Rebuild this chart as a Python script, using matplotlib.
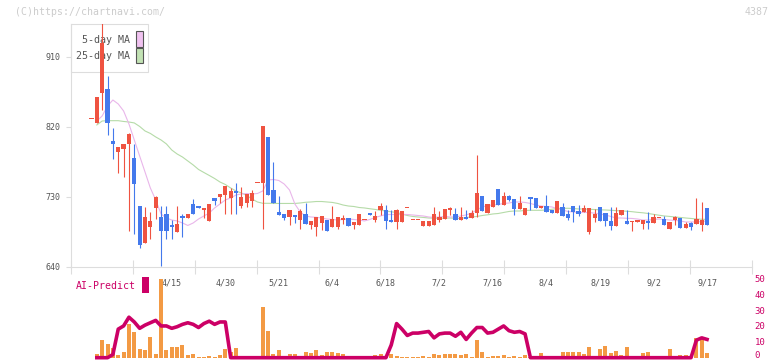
import numpy as np
import matplotlib
matplotlib.use("Agg")
import matplotlib.pyplot as plt
from matplotlib.patches import Rectangle
from matplotlib.transforms import blended_transform_factory, ScaledTranslation

# daily candles, oldest first
opens = [830.3, 825.2, 863.7, 868.9, 802.0, 788.3, 792.1, 797.8, 780.5, 718.4,
         671.3, 691.8, 716.3, 704.3, 708.2, 694.0, 685.4, 705.6, 703.4, 721.0,
         717.5, 713.7, 699.5, 728.7, 730.4, 733.0, 729.1, 738.1, 718.4, 722.7,
         725.3, 747.6, 748.0, 807.5, 739.0, 710.7, 708.2, 703.9, 706.5, 700.4,
         708.2, 694.4, 691.4, 697.0, 700.4, 691.1, 691.8, 700.4, 703.0, 694.4,
         694.4, 700.4, 709.1, 700.4, 713.3, 713.3, 700.4, 698.3, 698.3, 715.5,
         700.4, 700.4, 692.7, 692.7, 694.4, 700.4, 702.1, 713.3, 708.2, 700.8,
         704.7, 703.4, 709.8, 731.3, 709.8, 717.2, 740.3, 720.1, 731.3, 727.4,
         714.6, 706.9, 730.0, 728.7, 715.9, 718.4, 713.3, 709.4, 717.2, 708.2,
         718.4, 712.0, 710.7, 685.0, 703.0, 717.2, 709.4, 699.2, 692.7, 706.9,
         699.2, 697.9, 697.9, 695.3, 699.2, 696.6, 703.0, 701.7, 688.9, 700.4,
         703.0, 690.1, 696.6, 695.3, 694.0, 715.9]
highs = [830.3, 858.6, 953.7, 885.6, 818.7, 794.3, 798.2, 812.0, 798.2, 718.4,
         717.2, 711.1, 731.7, 718.4, 718.4, 700.4, 718.8, 708.2, 708.2, 727.4,
         717.5, 715.9, 721.0, 728.7, 733.9, 744.2, 742.0, 748.4, 743.3, 733.9,
         739.0, 747.6, 821.3, 807.5, 775.4, 731.3, 708.2, 713.3, 706.5, 714.6,
         721.9, 699.5, 704.7, 705.6, 700.4, 718.4, 704.7, 706.9, 703.0, 697.9,
         708.2, 700.4, 709.1, 712.0, 722.3, 719.7, 713.3, 714.6, 712.0, 715.5,
         700.4, 700.4, 699.2, 699.2, 717.2, 712.0, 714.6, 717.2, 716.3, 717.2,
         713.3, 713.3, 784.0, 731.3, 721.0, 726.2, 740.3, 736.4, 732.7, 727.4,
         731.3, 715.9, 730.0, 728.7, 718.4, 732.6, 713.3, 724.9, 722.3, 713.3,
         718.4, 719.7, 719.7, 715.9, 714.6, 717.2, 709.4, 717.2, 717.2, 713.3,
         713.3, 699.2, 700.4, 700.4, 710.7, 708.2, 703.0, 705.6, 697.9, 705.6,
         703.0, 697.9, 697.9, 728.7, 723.6, 715.9]
lows = [830.3, 825.2, 841.9, 809.7, 778.9, 761.3, 756.1, 686.7, 682.8, 664.8,
        671.3, 676.0, 702.1, 641.7, 676.0, 676.0, 685.4, 679.0, 703.4, 708.5,
        716.3, 703.4, 699.5, 719.7, 722.7, 708.5, 708.5, 708.5, 716.3, 717.6,
        717.6, 747.6, 688.5, 733.0, 722.7, 707.2, 700.4, 694.0, 696.2, 688.5,
        695.3, 688.9, 680.3, 687.6, 686.7, 691.1, 688.5, 695.3, 693.1, 689.3,
        694.4, 700.4, 707.2, 698.3, 706.9, 688.9, 698.3, 688.9, 698.3, 715.5,
        700.4, 700.4, 692.7, 692.7, 694.4, 698.3, 702.1, 706.9, 700.8, 700.8,
        702.1, 703.4, 704.7, 712.0, 709.8, 717.2, 720.1, 720.1, 724.8, 707.2,
        714.6, 706.9, 713.3, 715.9, 715.9, 710.7, 709.4, 709.4, 705.6, 700.4,
        697.9, 705.6, 710.7, 682.4, 697.9, 699.2, 692.7, 687.6, 692.7, 706.9,
        695.3, 686.3, 697.9, 688.9, 688.9, 696.6, 703.0, 694.0, 688.9, 694.0,
        690.1, 690.1, 687.6, 695.3, 686.3, 694.0]
closes = [830.3, 858.6, 928.0, 825.5, 797.8, 794.3, 798.2, 811.0, 747.1, 668.7,
          704.7, 699.2, 730.4, 686.7, 686.7, 691.1, 695.3, 703.4, 708.2, 708.5,
          716.3, 715.9, 721.0, 725.3, 733.9, 744.2, 738.1, 734.8, 730.4, 733.9,
          735.5, 747.6, 821.3, 733.0, 722.7, 707.2, 703.0, 713.3, 704.7, 711.6,
          695.3, 699.5, 704.7, 705.6, 686.7, 701.7, 704.7, 703.4, 693.1, 697.9,
          708.2, 700.4, 707.2, 705.6, 718.4, 699.5, 698.3, 713.3, 712.0, 715.5,
          700.4, 700.4, 699.2, 699.2, 708.2, 704.7, 714.6, 716.3, 700.8, 703.9,
          702.1, 709.4, 735.2, 712.0, 721.0, 726.2, 720.1, 731.3, 726.2, 714.6,
          722.3, 715.9, 727.4, 715.9, 718.4, 710.7, 709.4, 724.9, 705.6, 703.0,
          710.7, 708.2, 715.9, 715.9, 708.2, 699.2, 699.2, 692.7, 709.4, 713.3,
          695.3, 699.2, 700.4, 700.4, 696.6, 704.3, 703.0, 694.0, 697.9, 704.3,
          690.1, 695.3, 691.4, 701.7, 700.4, 694.0]

nan = np.nan
ma5 = [nan, 827.7, 834.2, 847.0, 854.7, 849.6, 840.6, 823.9, 803.3, 782.7,
       762.2, 741.6, 726.2, 708.2, 703.0, 700.4, 699.2, 696.6, 693.4, 696.6,
       701.7, 705.6, 709.4, 715.9, 721.0, 726.2, 728.7, 732.6, 733.9, 734.5,
       733.9, 734.5, 737.7, 751.9, 752.5, 751.2, 746.7, 739.0, 721.0, 710.7,
       705.6, 704.3, 703.9, 703.0, 701.7, 701.1, 700.4, 701.1, 701.7, 701.1,
       700.4, 699.2, 701.1, 703.7, 705.6, 707.5, 707.5, 707.5, 707.5, 707.5,
       706.9, 706.2, 705.6, 704.3, 703.7, 704.3, 705.0, 704.3, 704.3, 705.6,
       706.9, 709.4, 713.3, 717.2, 719.1, 719.7, 720.4, 721.7, 722.3, 723.6,
       723.6, 723.0, 721.7, 719.7, 718.4, 717.8, 717.2, 715.2, 713.3, 711.4,
       710.7, 710.1, 710.1, 710.1, 709.1, 708.2, 706.9, 705.0, 703.0, 703.0,
       702.6, 702.4, 701.7, 700.4, 700.4, 701.1, 701.7, 701.1, 700.4, 699.8,
       699.2, 697.9, 697.9, 697.9, 698.5, 699.2]
ma25 = [nan, 822.6, 827.7, 828.1, 828.1, 828.1, 827.1, 826.4, 825.2, 820.7,
        814.9, 811.7, 807.2, 803.3, 798.2, 790.4, 785.3, 781.4, 776.3, 771.2,
        765.4, 761.5, 757.7, 753.8, 749.3, 746.1, 741.6, 737.7, 735.2, 731.9,
        727.4, 723.6, 721.9, 721.9, 721.7, 721.7, 721.7, 721.7, 721.7, 722.3,
        723.2, 723.6, 724.2, 724.2, 723.6, 723.0, 721.7, 719.7, 718.4, 717.8,
        716.5, 715.9, 714.9, 714.0, 712.9, 712.0, 711.0, 710.1, 708.2, 706.2,
        705.0, 704.3, 703.7, 703.0, 702.8, 702.6, 702.8, 703.0, 702.6, 702.4,
        703.7, 704.3, 705.0, 706.2, 707.1, 708.2, 708.8, 710.1, 711.4, 712.0,
        712.0, 712.7, 712.9, 712.9, 712.9, 713.3, 714.2, 715.2, 715.5, 715.5,
        715.2, 714.6, 714.6, 714.2, 713.9, 713.5, 713.3, 712.9, 712.5, 712.1,
        711.7, 711.1, 710.3, 709.7, 708.8, 707.7, 706.6, 705.6, 705.0, 704.3,
        703.7, 703.0, 702.4, 701.7, 701.4, 701.2]

# volume (relative units), AI-Predict score (0-50)
volume = [0, 4, 18, 14, 10, 3, 6, 34, 26, 9,
          8, 21, 4, 79, 8, 11, 11, 13, 3, 4,
          1, 1, 2, 1, 3, 9, 6, 10, 0, 0,
          0, 0, 51, 27, 4, 8, 2, 4, 4, 0,
          6, 5, 8, 3, 6, 6, 5, 4, 2, 0,
          2, 0, 2, 3, 4, 2, 4, 2, 1, 0.5,
          0.5, 0.5, 2, 1, 4, 3, 4, 4, 4, 3,
          4, 1, 18, 6, 1, 2, 2, 3, 1, 2,
          1, 3, 1, 2, 5, 0, 0, 2, 6, 6,
          6, 6, 4, 11, 2, 9, 12, 5, 7, 3,
          11, 1, 0, 5, 6, 2, 0, 2, 9, 0,
          3, 3, 0, 20, 20, 5]
ai_predict = [nan, 0, 0, 0, 2, 18, 20, 25.5, 22.5, 18.5,
              20.5, 22, 23.5, 20, 20, 18.5, 19.5, 21, 22, 21,
              19, 21.5, 23, 21, 22.5, 22.5, 0, 0, 0, 0,
              0, 0, 0, 0, 0, 0, 0, 0, 0, 0,
              0, 0, 0, 0, 0, 0, 0, 0, 0, 0,
              0, 0, 0, 0, 0, 0, 8, 21.5, 18, 14,
              15.5, 15.5, 16, 16.5, 12.5, 15, 15.5, 15.5, 13.5, 16,
              11.5, 15.5, 19, 19, 15.5, 16, 18, 20, 17, 16,
              16.5, 15, 0, 0, 0, 0, 0, 0, 0, 0,
              0, 0, 0, 0, 0, 0, 0, 0, 0, 0,
              0, 0, 0, 0, 0, 0, 0, 0, 0, 0,
              0, 0, 0, 11, 12.5, 11.5]

date_labels = ["4/15", "4/30", "5/21", "6/4", "6/18", "7/2", "7/16", "8/4", "8/19", "9/2", "9/17"]
label_idx = [15, 25, 35, 45, 55, 65, 75, 85, 95, 105, 115]
price_ticks = [640, 730, 820, 910]
ai_ticks = [0, 10, 20, 30, 40, 50]

UP = "#ef5341"
DOWN = "#4479ec"
MAGENTA = "#cc0066"
W, H = 772, 361

plt.rcParams["font.family"] = ["DejaVu Sans Mono"]


def fx(x):
    return x / W


def fy(y):
    return 1 - y / H


fig = plt.figure(figsize=(W / 100, H / 100), dpi=100)

# ---- price panel ----
ax = fig.add_axes([fx(70.7), fy(267), fx(752.3) - fx(70.7), fy(24) - fy(267)])
x_min, x_max = -3.88, 123.45
ax.set_xlim(x_min, x_max)
ax.set_ylim(640, 952.4)

idx = np.arange(len(closes))
o = np.array(opens)
c = np.array(closes)
cols = [UP if cc >= oo else DOWN for oo, cc in zip(o, c)]
body_lo = np.minimum(o, c)
body_h = np.maximum(np.abs(c - o), 1.6)

ax.plot(idx, ma25, color="#b5dba8", lw=0.8, zorder=2)
ax.plot(idx, ma5, color="#e9b6ea", lw=0.8, zorder=2)
ax.vlines(idx, lows, highs, colors=cols, lw=0.8, zorder=3)
ax.bar(idx, body_h, bottom=body_lo, width=0.8, color=cols, linewidth=0, zorder=4)

for side in ["top", "right"]:
    ax.spines[side].set_visible(False)
for side in ["left", "bottom"]:
    ax.spines[side].set_color("#dddddd")
    ax.spines[side].set_linewidth(0.8)

ax.set_yticks(price_ticks)
ax.set_yticklabels([str(t) for t in price_ticks])
ax.tick_params(axis="y", length=3.6, width=0.8, color="#dddddd", pad=4,
               labelsize=6, labelcolor="#555555")
ax.set_xticks(np.arange(x_min, x_max, 11.574))
ax.tick_params(axis="x", direction="inout", length=9.4, width=0.8,
               color="#dddddd", labelbottom=False)

tr = blended_transform_factory(ax.transData, fig.transFigure)
for i, t in zip(label_idx, date_labels):
    ax.text(i, fy(283), t, transform=tr, ha="center", va="center",
            fontsize=6, color="#555555", clip_on=False)

# legend box (under the candles)
ax.add_patch(Rectangle((fx(70.7), fy(71.7)), fx(148.3) - fx(70.7), fy(24) - fy(71.7),
                       transform=fig.transFigure, facecolor="white", edgecolor="#dddddd",
                       lw=0.8, clip_on=False, zorder=1))
for name, yc, y0, y1, fc in [("5-day MA", 40, 31, 46.7, "#f0c2f0"),
                             ("25-day MA", 56, 48.3, 63.3, "#c2e2b4")]:
    ax.text(fx(129.5), fy(yc), name, transform=fig.transFigure, ha="right", va="center",
            fontsize=7.2, color="#555555", zorder=1.5)
    ax.add_patch(Rectangle((fx(136), fy(y1)), fx(142.7) - fx(136), fy(y0) - fy(y1),
                           transform=fig.transFigure, facecolor=fc, edgecolor="#555555",
                           lw=0.8, clip_on=False, zorder=1.5))

fig.text(fx(15), fy(12), "(C)https://chartnavi.com/", fontsize=7.1, color="#cccccc",
         ha="left", va="center")
fig.text(fx(769), fy(12), "4387", fontsize=7.1, color="#cccccc", ha="right", va="center")

# ---- volume / AI panel ----
ax_vol = fig.add_axes([fx(70.7), fy(357.7), fx(752.3) - fx(70.7), fy(278.3) - fy(357.7)])
ax_vol.set_xlim(x_min, x_max)
ax_vol.set_ylim(0, 79.4)
ax_vol.bar(idx, volume, width=0.75, color="#f39a44", linewidth=0)
ax_vol.axis("off")

ax_ai = ax_vol.twinx()
ax_ai.set_xlim(x_min, x_max)
ax_ai.set_ylim(0, 50)
ax_ai.plot(idx, ai_predict, color=MAGENTA, lw=2.6, clip_on=False)
for s in ax_ai.spines.values():
    s.set_visible(False)
ax_ai.set_yticks(ai_ticks)
ax_ai.set_yticklabels([str(t) for t in ai_ticks])
ax_ai.tick_params(axis="y", length=0, pad=1.5, labelsize=6.5, labelcolor=MAGENTA)
ax_ai.set_xticks([])
# keep the bottom "0" inside the picture
lbl0 = ax_ai.get_yticklabels()[0]
lbl0.set_transform(lbl0.get_transform() + ScaledTranslation(0, 2.5 / 72, fig.dpi_scale_trans))

fig.text(fx(76), fy(286), "AI-Predict", fontsize=7.1, color=MAGENTA, ha="left", va="center")
fig.add_artist(Rectangle((fx(142.3), fy(292.7)), fx(148.7) - fx(142.3), fy(277.3) - fy(292.7),
                         transform=fig.transFigure, facecolor=MAGENTA, lw=0))

fig.savefig("out.png", dpi=100)
